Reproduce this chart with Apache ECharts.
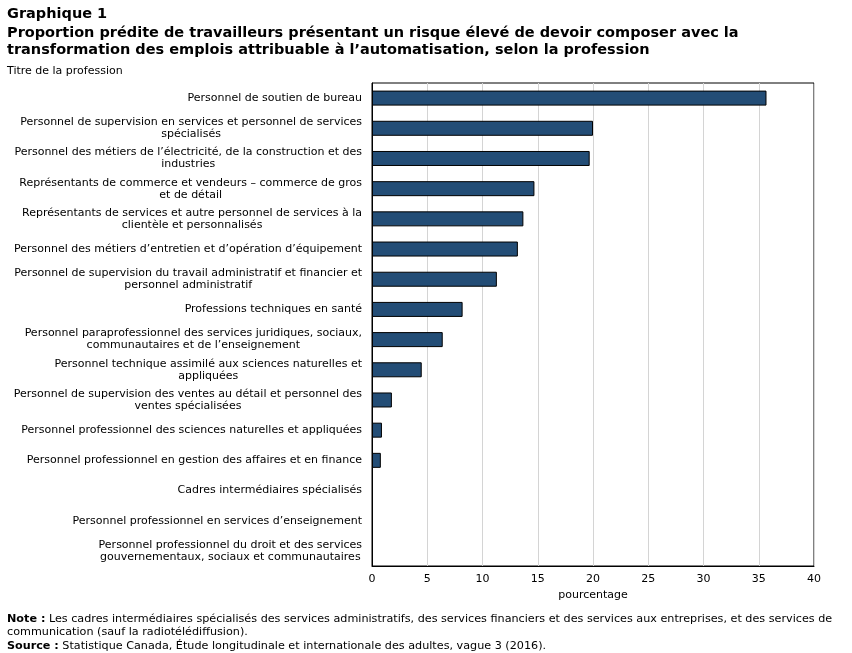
<!DOCTYPE html>
<html>
<head>
<meta charset="utf-8">
<script src="https://cdn.jsdelivr.net/npm/echarts@6/dist/echarts.min.js"></script>
<style>
  html, body { margin: 0; padding: 0; background: #fff; }
  #chart { width: 852px; height: 653px; }
</style>
</head>
<body>
<div id="chart"></div>
<script>
// professions (top to bottom)
const categories = [
  'Personnel de soutien de bureau',
  'Personnel de supervision en services et personnel de services\nspécialisés',
  'Personnel des métiers de l\u2019électricité, de la construction et des\nindustries',
  'Représentants de commerce et vendeurs \u2013 commerce de gros\net de détail',
  'Représentants de services et autre personnel de services à la\nclientèle et personnalisés',
  'Personnel des métiers d\u2019entretien et d\u2019opération d\u2019équipement',
  'Personnel de supervision du travail administratif et financier et\npersonnel administratif',
  'Professions techniques en santé',
  'Personnel paraprofessionnel des services juridiques, sociaux,\ncommunautaires et de l\u2019enseignement',
  'Personnel technique assimilé aux sciences naturelles et\nappliquées',
  'Personnel de supervision des ventes au détail et personnel des\nventes spécialisées',
  'Personnel professionnel des sciences naturelles et appliquées',
  'Personnel professionnel en gestion des affaires et en finance',
  'Cadres intermédiaires spécialisés',
  'Personnel professionnel en services d\u2019enseignement',
  'Personnel professionnel du droit et des services\ngouvernementaux, sociaux et communautaires'
];
// pourcentage
const values = [35.7, 20.0, 19.7, 14.7, 13.7, 13.2, 11.3, 8.2, 6.4, 4.5, 1.8, 0.9, 0.8, null, null, null];
const xTicks = { min: 0, max: 40, interval: 5 };

const FONT = '"DejaVu Sans", Verdana, sans-serif';

const chart = echarts.init(document.getElementById('chart'));
const option = {
  animation: false,
  backgroundColor: '#fff',
  textStyle: { fontFamily: FONT, color: '#000' },
  grid: { left: 372, top: 83, right: 38, bottom: 87, show: true, borderColor: '#000', borderWidth: 1, containLabel: false },
  xAxis: {
    type: 'value',
    min: xTicks.min, max: xTicks.max, interval: xTicks.interval,
    name: 'pourcentage',
    nameLocation: 'middle',
    nameGap: 24,
    nameTextStyle: { fontFamily: FONT, fontSize: 11, color: '#000' },
    axisLine: { show: true, lineStyle: { color: '#000' } },
    axisTick: { show: false },
    axisLabel: { fontFamily: FONT, fontSize: 11, color: '#000', margin: 8 },
    splitLine: { show: true, lineStyle: { color: '#d4d4d4', width: 1 } }
  },
  yAxis: {
    type: 'category',
    data: categories,
    inverse: true,
    axisLine: { show: true, lineStyle: { color: '#000' } },
    axisTick: { show: false },
    splitLine: { show: false },
    axisLabel: {
      margin: 10,
      align: 'right',
      formatter: function (v) {
        return v.split('\n').map(function (l) { return '{c|' + l + '}'; }).join('\n');
      },
      rich: {
        c: { fontFamily: FONT, fontSize: 11, color: '#000', align: 'center', lineHeight: 12 }
      }
    }
  },
  series: [{
    type: 'bar',
    data: values,
    barWidth: 15,
    itemStyle: { color: '#234d76', borderColor: '#000', borderWidth: 1 }
  }],
  graphic: [
    { type: 'text', left: 7, top: 7, style: { text: 'Graphique 1', fontFamily: FONT, fontSize: 14.5, fontWeight: 'bold', fill: '#000' } },
    { type: 'text', left: 7, top: 25, style: { text: 'Proportion prédite de travailleurs présentant un risque élevé de devoir composer avec la\ntransformation des emplois attribuable à l\u2019automatisation, selon la profession', fontFamily: FONT, fontSize: 14.5, fontWeight: 'bold', lineHeight: 17, fill: '#000' } },
    { type: 'text', left: 7, top: 66, style: { text: 'Titre de la profession', fontFamily: FONT, fontSize: 11, fill: '#000' } },
    { type: 'text', left: 7, top: 612, style: {
      text: '{b|Note :} Les cadres intermédiaires spécialisés des services administratifs, des services financiers et des services aux entreprises, et des services de\ncommunication (sauf la radiotélédiffusion).\n{b|Source :} Statistique Canada, Étude longitudinale et internationale des adultes, vague 3 (2016).',
      fontFamily: FONT, fontSize: 11.2, lineHeight: 13.5, fill: '#000',
      rich: { b: { fontFamily: FONT, fontSize: 11.2, fontWeight: 'bold', lineHeight: 13.5 } }
    } }
  ]
};
chart.setOption(option);
</script>
</body>
</html>
